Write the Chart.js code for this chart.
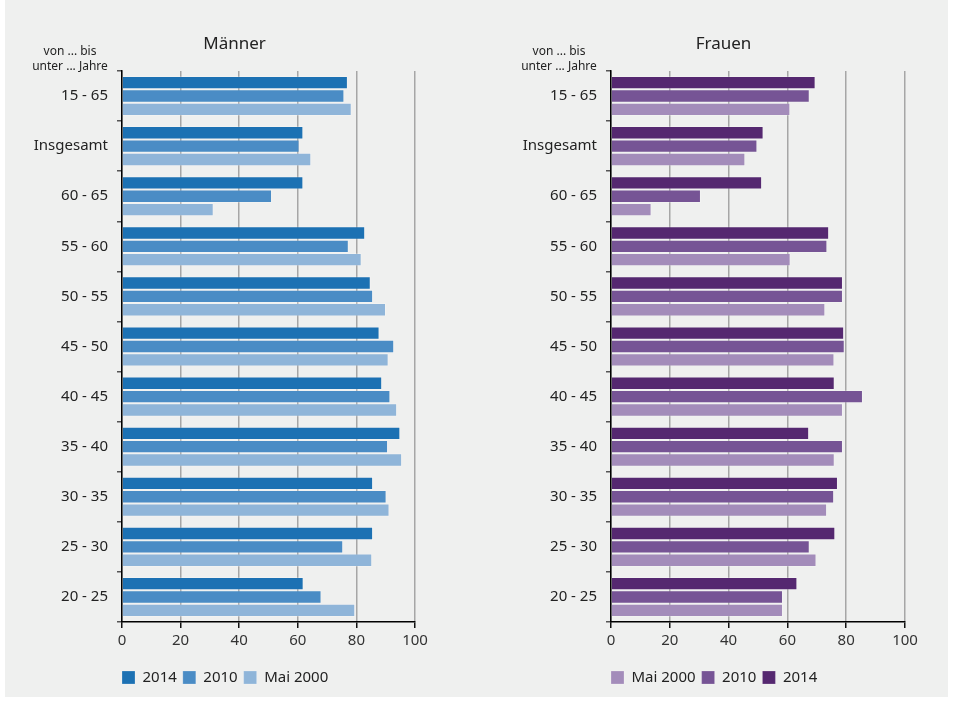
<!DOCTYPE html>
<html>
<head>
<meta charset="utf-8">
<script src="https://cdn.jsdelivr.net/npm/chart.js@4"></script>
<style>
body { margin: 0; background: #fff; }
#panel { position: absolute; left: 5px; top: 0; width: 943px; height: 697px; background: #eff0ef; }
canvas { position: absolute; top: 0; }
#men { left: 0; }
#women { left: 476px; }
</style>
</head>
<body>
<div id="panel"></div>
<canvas id="men" width="476" height="702"></canvas>
<canvas id="women" width="477" height="702"></canvas>
<script>
var categories = ['15 - 65', 'Insgesamt', '60 - 65', '55 - 60', '50 - 55', '45 - 50',
                  '40 - 45', '35 - 40', '30 - 35', '25 - 30', '20 - 25'];
var xTicks = [0, 20, 40, 60, 80, 100];

var maenner2014 = [77.1, 61.9, 61.9, 83.0, 84.9, 87.9, 88.8, 95.0, 85.7, 85.7, 62.0];
var maenner2010 = [75.9, 60.6, 51.2, 77.4, 85.7, 92.9, 91.6, 90.8, 90.3, 75.5, 68.1];
var maenner2000 = [78.4, 64.6, 31.3, 81.8, 90.1, 91.0, 93.9, 95.6, 91.3, 85.4, 79.6];

var frauen2014 = [69.6, 51.9, 51.4, 74.2, 78.9, 79.3, 76.1, 67.4, 77.2, 76.3, 63.4];
var frauen2010 = [67.6, 49.8, 30.6, 73.6, 78.9, 79.5, 85.7, 78.9, 75.9, 67.6, 58.5];
var frauen2000 = [61.0, 45.7, 13.8, 61.1, 72.9, 76.0, 78.9, 76.1, 73.5, 69.9, 58.5];

var FONT = '"Noto Sans", "Open Sans", sans-serif';

// title and the "von ... bis" note, placed from the plot area
var headings = {
    id: 'headings',
    afterDraw: function(chart, args, opts) {
        var ctx = chart.ctx, left = chart.chartArea.left;
        ctx.save();
        ctx.fillStyle = '#222';
        ctx.textAlign = 'center';
        ctx.textBaseline = 'middle';
        ctx.font = '17px ' + FONT;
        ctx.fillText(opts.text, left + 112.5, 44);
        ctx.font = '12px ' + FONT;
        ctx.fillText('von ... bis', left - 52, 52);
        ctx.fillText('unter ... Jahre', left - 52, 67);
        ctx.restore();
    }
};

// legend starts under the y axis, not at the canvas edge
var shiftLegend = {
    id: 'shiftLegend',
    afterLayout: function(chart) {
        var lg = chart.legend;
        var pad = lg.options.labels.padding;
        var dx = chart.chartArea.left - lg.left - pad;
        var dy = 670 - (lg.top + pad);
        lg.left += dx; lg.right += dx;
        lg.top += dy; lg.bottom += dy;
    }
};

function bars(label, data, color) {
    return {
        label: label,
        data: data,
        backgroundColor: color,
        borderColor: 'rgba(255,255,255,0.22)',
        borderWidth: 1,
        categoryPercentage: 0.8,
        barPercentage: 1
    };
}

function makeChart(id, title, datasets, axisWidth, padRight, reverse) {
    return new Chart(document.getElementById(id), {
        type: 'bar',
        data: { labels: categories, datasets: datasets },
        options: {
            indexAxis: 'y',
            responsive: false,
            animation: false,
            layout: { padding: { top: 71, right: padRight, bottom: 17, left: 0 } },
            scales: {
                x: {
                    min: 0,
                    max: 100,
                    afterBuildTicks: function(s) { s.ticks = xTicks.map(function(v) { return { value: v }; }); },
                    grid: { color: '#a6a6a6', lineWidth: 1.5, tickColor: '#111', tickLength: 6 },
                    border: { color: '#000', width: 1.5 },
                    ticks: { padding: 4, color: '#333', font: { family: FONT, size: 15 } }
                },
                y: {
                    afterFit: function(s) { s.width = axisWidth; },
                    grid: { drawOnChartArea: false, tickLength: 5, tickColor: '#555', lineWidth: 1.5 },
                    border: { color: '#000', width: 1.5 },
                    ticks: { padding: 9, color: '#222', font: { family: FONT, size: 15 } }
                }
            },
            plugins: {
                headings: { text: title },
                legend: {
                    position: 'bottom',
                    align: 'start',
                    reverse: reverse,
                    labels: {
                        boxWidth: 13,
                        boxHeight: 13,
                        padding: 6,
                        color: '#222',
                        font: { family: FONT, size: 15 }
                    }
                },
                tooltip: { enabled: false }
            }
        },
        plugins: [headings, shiftLegend]
    });
}

var menChart = makeChart('men', 'Männer', [
    bars('2014', maenner2014, '#1c71b3'),
    bars('2010', maenner2010, '#4a8cc5'),
    bars('Mai 2000', maenner2000, '#8fb5d9')
], 122, 61, false);

var womenChart = makeChart('women', 'Frauen', [
    bars('2014', frauen2014, '#552870'),
    bars('2010', frauen2010, '#765495'),
    bars('Mai 2000', frauen2000, '#a38cba')
], 135, 48, true);
</script>
</body>
</html>
